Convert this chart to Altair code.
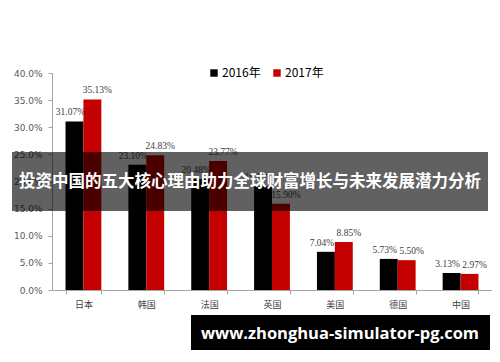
import altair as alt
import pandas as pd

countries = ["日本", "韩国", "法国", "英国", "美国", "德国", "中国"]
years = ["2016年", "2017年"]
v2016 = [31.07, 23.10, 20.48, 19.10, 7.04, 5.73, 3.13]
v2017 = [35.13, 24.83, 23.77, 15.90, 8.85, 5.50, 2.97]
colors = ["#000000", "#c40000"]
yticks = [0.0, 0.05, 0.10, 0.15, 0.20, 0.25, 0.30, 0.35, 0.40]
banner_text = "投资中国的五大核心理由助力全球财富增长与未来发展潜力分析"
url_text = "www.zhonghua-simulator-pg.com"

rows = []
for c, a, b in zip(countries, v2016, v2017):
    rows.append({"country": c, "year": years[0], "value": a / 100, "label": f"{a:.2f}%"})
    rows.append({"country": c, "year": years[1], "value": b / 100, "label": f"{b:.2f}%"})
df = pd.DataFrame(rows)

xenc = alt.X("country:N", sort=countries, title=None,
             scale=alt.Scale(paddingInner=0.43, paddingOuter=0.215),
             axis=alt.Axis(labelAngle=0, labelFontSize=9, labelColor="#404040",
                           labelFont="Noto Sans CJK SC", domainColor="#a6a6a6",
                           tickColor="#a6a6a6", tickBand="extent", tickSize=4,
                           labelPadding=6))
xoff = alt.XOffset("year:N", sort=years, scale=alt.Scale(paddingInner=0, paddingOuter=0))
yenc = alt.Y("value:Q", title=None,
             scale=alt.Scale(domain=[0, 0.4]),
             axis=alt.Axis(format=".1%", values=yticks,
                           grid=False, labelFontSize=9, labelColor="#595959",
                           labelFont="DejaVu Sans", domainColor="#a6a6a6",
                           tickColor="#a6a6a6", tickSize=4, labelPadding=6,
                           labelOverlap=False))

base = alt.Chart(df)
bars = base.mark_bar().encode(
    x=xenc, xOffset=xoff, y=yenc,
    color=alt.Color("year:N", sort=years,
                    scale=alt.Scale(domain=years, range=colors),
                    legend=alt.Legend(title=None, orient="none", legendX=156, legendY=-6,
                                      direction="horizontal", symbolType="square",
                                      symbolSize=55, symbolStrokeWidth=0,
                                      labelFontSize=12, labelFont="Noto Sans CJK SC",
                                      labelColor="#000000", columnPadding=10,
                                      symbolOffset=0, labelOffset=2)),
)
lab_common = dict(baseline="bottom", dy=-4, fontSize=9.5,
                  font="Liberation Serif", color="#404040")
labels16 = base.transform_filter(alt.datum.year == years[0]).mark_text(dx=-4, **lab_common).encode(
    x=xenc, xOffset=xoff, y=yenc, text="label:N")
labels17 = base.transform_filter(alt.datum.year == years[1]).mark_text(dx=5, **lab_common).encode(
    x=xenc, xOffset=xoff, y=yenc, text="label:N")

banner_df = pd.DataFrame({"t": [banner_text]})
banner_rect = alt.Chart(banner_df).mark_rect(color="#000000", opacity=0.62).encode(
    x=alt.value(-40), x2=alt.value(436), y=alt.value(79), y2=alt.value(138))
banner_txt = alt.Chart(banner_df).mark_text(
    color="white", fontSize=16.5, fontWeight="bold", font="Noto Sans CJK SC",
    align="center", baseline="middle").encode(
    x=alt.value(198), y=alt.value(109), text="t:N")

url_df = pd.DataFrame({"t": [url_text]})
url_rect = alt.Chart(url_df).mark_rect(color="#000000").encode(
    x=alt.value(139), x2=alt.value(438), y=alt.value(242), y2=alt.value(280))
url_txt = alt.Chart(url_df).mark_text(
    color="white", fontSize=16.5, fontWeight="bold", font="Open Sans",
    align="center", baseline="middle").encode(
    x=alt.value(288), y=alt.value(261), text="t:N")

chart = alt.layer(bars, labels16, labels17, banner_rect, banner_txt, url_rect, url_txt).properties(
    width=440, height=217,
    padding={"left": 44, "top": 65, "right": 0, "bottom": 60},
    autosize=alt.AutoSizeParams(type="none"),
    background="white",
).configure_view(stroke=None)

chart.save("out.html", embed_options={"renderer": "svg", "actions": False})
